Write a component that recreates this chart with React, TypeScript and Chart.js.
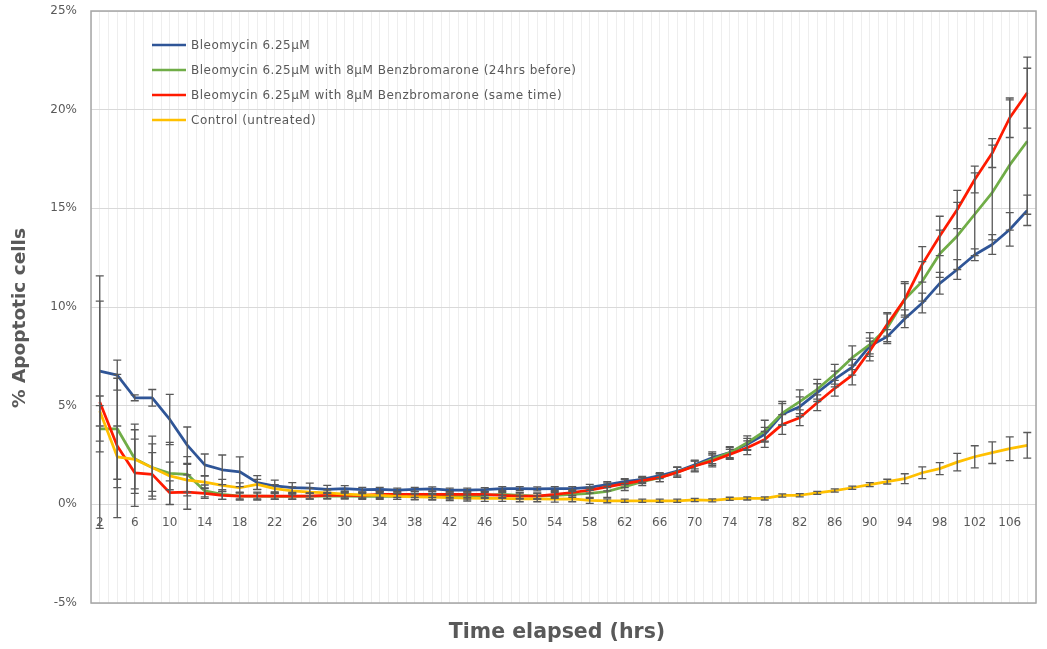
import React, { useEffect, useRef } from 'react';
import { Chart, registerables } from 'chart.js';

Chart.register(...registerables);

const hours = [2, 4, 6, 8, 10, 12, 14, 16, 18, 20, 22, 24, 26, 28, 30, 32, 34, 36, 38, 40, 42, 44, 46, 48, 50, 52, 54, 56, 58, 60, 62, 64, 66, 68, 70, 72, 74, 76, 78, 80, 82, 84, 86, 88, 90, 92, 94, 96, 98, 100, 102, 104, 106, 108];
const xTickLabels = [2, 6, 10, 14, 18, 22, 26, 30, 34, 38, 42, 46, 50, 54, 58, 62, 66, 70, 74, 78, 82, 86, 90, 94, 98, 102, 106];
const xMin = 1;
const xMax = 109;

const seriesNames = [
  'Bleomycin 6.25µM',
  'Bleomycin 6.25µM with 8µM Benzbromarone (24hrs before)',
  'Bleomycin 6.25µM with 8µM Benzbromarone (same time)',
  'Control (untreated)',
];
const seriesColors = ['#2F5597', '#70AD47', '#FF1A00', '#FFC000'];

const bleo = [6.75, 6.55, 5.4, 5.4, 4.3, 3.0, 2.0, 1.75, 1.65, 1.1, 0.93, 0.85, 0.82, 0.76, 0.8, 0.74, 0.76, 0.72, 0.76, 0.78, 0.72, 0.72, 0.74, 0.8, 0.8, 0.78, 0.8, 0.8, 0.86, 1.0, 1.15, 1.27, 1.45, 1.68, 2.0, 2.36, 2.62, 3.04, 3.55, 4.56, 4.95, 5.66, 6.35, 6.95, 8.02, 8.5, 9.4, 10.2, 11.2, 11.9, 12.65, 13.17, 13.93, 14.9];
const bleoErr = [3.55, 0.76, 0.15, 0.42, 1.27, 0.92, 0.55, 0.75, 0.75, 0.35, 0.3, 0.25, 0.25, 0.2, 0.15, 0.12, 0.1, 0.1, 0.1, 0.1, 0.1, 0.1, 0.1, 0.1, 0.1, 0.1, 0.1, 0.1, 0.15, 0.15, 0.15, 0.15, 0.15, 0.2, 0.2, 0.3, 0.25, 0.3, 0.35, 0.55, 0.5, 0.45, 0.4, 0.4, 0.4, 0.35, 0.45, 0.5, 0.55, 0.5, 0.3, 0.5, 0.85, 0.77];

const bleoBenzBefore = [3.83, 3.83, 2.31, 1.86, 1.57, 1.52, 0.68, 0.5, 0.42, 0.42, 0.4, 0.4, 0.42, 0.42, 0.42, 0.4, 0.4, 0.4, 0.4, 0.4, 0.42, 0.42, 0.45, 0.5, 0.45, 0.42, 0.45, 0.5, 0.55, 0.65, 0.9, 1.15, 1.35, 1.64, 1.94, 2.28, 2.62, 3.12, 3.71, 4.62, 5.2, 5.83, 6.59, 7.43, 8.1, 8.95, 10.39, 11.3, 12.7, 13.6, 14.7, 15.8, 17.2, 18.4];
const bleoBenzBeforeErr = [1.17, 2.56, 1.75, 1.6, 1.57, 0.9, 0.3, 0.25, 0.2, 0.2, 0.15, 0.15, 0.15, 0.15, 0.15, 0.15, 0.15, 0.15, 0.15, 0.15, 0.15, 0.15, 0.15, 0.15, 0.15, 0.15, 0.15, 0.15, 0.25, 0.3, 0.2, 0.2, 0.2, 0.25, 0.25, 0.3, 0.3, 0.35, 0.55, 0.6, 0.6, 0.5, 0.5, 0.6, 0.6, 0.7, 0.9, 1.0, 1.2, 1.7, 2.1, 2.4, 3.3, 3.7];

const bleoBenzSame = [5.18, 2.96, 1.6, 1.52, 0.59, 0.62, 0.55, 0.45, 0.42, 0.42, 0.42, 0.42, 0.42, 0.45, 0.45, 0.45, 0.5, 0.5, 0.5, 0.5, 0.5, 0.5, 0.5, 0.45, 0.42, 0.42, 0.5, 0.6, 0.72, 0.88, 1.05, 1.2, 1.35, 1.62, 1.94, 2.2, 2.53, 2.87, 3.29, 4.05, 4.39, 5.15, 5.88, 6.55, 7.77, 9.12, 10.39, 12.16, 13.6, 14.94, 16.46, 17.8, 19.59, 20.86];
const bleoBenzSameErr = [6.4, 3.63, 1.7, 1.1, 0.6, 0.87, 0.25, 0.2, 0.15, 0.15, 0.15, 0.15, 0.15, 0.15, 0.15, 0.15, 0.15, 0.15, 0.15, 0.15, 0.15, 0.15, 0.15, 0.15, 0.15, 0.15, 0.15, 0.15, 0.15, 0.2, 0.2, 0.15, 0.2, 0.25, 0.3, 0.3, 0.25, 0.35, 0.4, 0.5, 0.4, 0.4, 0.4, 0.5, 0.5, 0.6, 0.8, 0.9, 1.0, 0.97, 0.68, 0.73, 1.0, 1.8];

const control = [4.73, 2.41, 2.28, 1.86, 1.44, 1.23, 1.13, 0.96, 0.84, 1.01, 0.8, 0.68, 0.62, 0.58, 0.52, 0.48, 0.45, 0.4, 0.38, 0.36, 0.34, 0.32, 0.3, 0.3, 0.28, 0.28, 0.26, 0.28, 0.2, 0.18, 0.18, 0.18, 0.18, 0.18, 0.22, 0.2, 0.28, 0.3, 0.3, 0.45, 0.46, 0.58, 0.7, 0.84, 1.0, 1.15, 1.3, 1.6, 1.81, 2.14, 2.41, 2.62, 2.82, 2.99];
const controlErr = [0.76, 1.56, 1.5, 1.2, 0.7, 0.8, 0.3, 0.3, 0.25, 0.25, 0.2, 0.2, 0.2, 0.15, 0.15, 0.15, 0.15, 0.15, 0.15, 0.15, 0.15, 0.15, 0.15, 0.15, 0.15, 0.15, 0.15, 0.15, 0.15, 0.1, 0.08, 0.08, 0.08, 0.08, 0.08, 0.08, 0.08, 0.08, 0.08, 0.08, 0.08, 0.08, 0.08, 0.08, 0.1, 0.12, 0.25, 0.3, 0.3, 0.44, 0.56, 0.55, 0.6, 0.65];

const seriesValues = [bleo, bleoBenzBefore, bleoBenzSame, control];
const seriesErrors = [bleoErr, bleoBenzBeforeErr, bleoBenzSameErr, controlErr];

const FONT = '"DejaVu Sans", sans-serif';
const TEXT = '#595959';

const framePlugin = {
  id: 'frame',
  beforeDatasetsDraw(chart: any) {
    const { ctx, chartArea: a } = chart;
    ctx.save();
    ctx.strokeStyle = '#a6a6a6';
    ctx.lineWidth = 1.5;
    ctx.strokeRect(a.left, a.top, a.right - a.left, a.bottom - a.top);
    ctx.restore();
  },
};

const errorBarPlugin = {
  id: 'errorBars',
  afterDatasetsDraw(chart: any) {
    const { ctx } = chart;
    const xs = chart.scales.x;
    const ys = chart.scales.y;
    ctx.save();
    ctx.strokeStyle = '#595959';
    ctx.lineWidth = 1.3;
    chart.data.datasets.forEach((ds: any) => {
      const errs: number[] = ds.errors;
      ds.data.forEach((p: any, j: number) => {
        const e = errs[j];
        const px = xs.getPixelForValue(p.x);
        const top = ys.getPixelForValue(p.y + e);
        const bot = ys.getPixelForValue(p.y - e);
        ctx.beginPath();
        ctx.moveTo(px, top);
        ctx.lineTo(px, bot);
        ctx.moveTo(px - 4, top);
        ctx.lineTo(px + 4, top);
        ctx.moveTo(px - 4, bot);
        ctx.lineTo(px + 4, bot);
        ctx.stroke();
      });
    });
    ctx.restore();
  },
};

const labelPlugin = {
  id: 'labels',
  afterDraw(chart: any) {
    const { ctx } = chart;
    ctx.save();
    // legend
    ctx.font = `12px ${FONT}`;
    (ctx as any).letterSpacing = '0.5px';
    ctx.textBaseline = 'middle';
    ctx.textAlign = 'left';
    seriesNames.forEach((name, i) => {
      const y = 45 + i * 25;
      ctx.strokeStyle = seriesColors[i];
      ctx.lineWidth = 2.5;
      ctx.beginPath();
      ctx.moveTo(152, y);
      ctx.lineTo(186, y);
      ctx.stroke();
      ctx.fillStyle = TEXT;
      ctx.fillText(name, 191, y + 0.5);
    });
    (ctx as any).letterSpacing = '0px';
    // axis titles
    ctx.fillStyle = TEXT;
    ctx.textAlign = 'center';
    ctx.textBaseline = 'middle';
    ctx.font = `bold 20.5px ${FONT}`;
    ctx.fillText('Time elapsed (hrs)', 557, 633);
    ctx.font = `bold 18.5px ${FONT}`;
    ctx.translate(20, 318);
    ctx.rotate(-Math.PI / 2);
    ctx.fillText('% Apoptotic cells', 0, 0);
    ctx.restore();
  },
};

export default function App() {
  const ref = useRef<HTMLCanvasElement>(null);
  useEffect(() => {
    if (!ref.current) return;
    const chart = new Chart(ref.current, {
      type: 'line',
      data: {
        datasets: seriesNames.map((name, i) => ({
          label: name,
          data: hours.map((h, j) => ({ x: h, y: seriesValues[i][j] })),
          errors: seriesErrors[i],
          borderColor: seriesColors[i],
          backgroundColor: seriesColors[i],
          borderWidth: 2.75,
          pointRadius: 0,
          tension: 0,
          fill: false,
          order: 3 - i,
          borderJoinStyle: 'round',
        })) as any,
      },
      options: {
        animation: false,
        responsive: false,
        devicePixelRatio: 1,
        layout: { padding: { top: 11, right: 1, bottom: 46, left: 0 } },
        plugins: {
          legend: { display: false },
          tooltip: { enabled: false },
          title: { display: false },
        },
        scales: {
          x: {
            type: 'linear',
            min: xMin,
            max: xMax,
            position: { y: 0 } as any,
            border: { display: false },
            grid: { color: '#eeeeee', lineWidth: 1, drawTicks: false },
            afterBuildTicks: (s: any) => {
              const t: any[] = [];
              for (let v = xMin; v <= xMax; v++) t.push({ value: v });
              s.ticks = t;
            },
            ticks: {
              autoSkip: false,
              maxRotation: 0,
              minRotation: 0,
              padding: 11,
              color: TEXT,
              font: { family: FONT, size: 12 },
              callback: (v: any) => (xTickLabels.includes(Number(v)) ? String(v) : ''),
            },
          },
          y: {
            type: 'linear',
            min: -5,
            max: 25,
            border: { display: false },
            grid: { color: '#d9d9d9', lineWidth: 1, drawTicks: false },
            ticks: {
              stepSize: 5,
              padding: 14,
              color: TEXT,
              font: { family: FONT, size: 12 },
              callback: (v: any) => `${v}%`,
            },
            afterFit: (s: any) => {
              s.width = 91;
              s.paddingTop = 0;
              s.paddingBottom = 0;
            },
          },
        },
      },
      plugins: [framePlugin, errorBarPlugin, labelPlugin],
    });
    return () => chart.destroy();
  }, []);
  return (
    <div style={{ position: 'fixed', left: 0, top: 0, width: 1047, height: 649, background: '#fff' }}>
      <canvas ref={ref} width={1047} height={649} />
    </div>
  );
}
